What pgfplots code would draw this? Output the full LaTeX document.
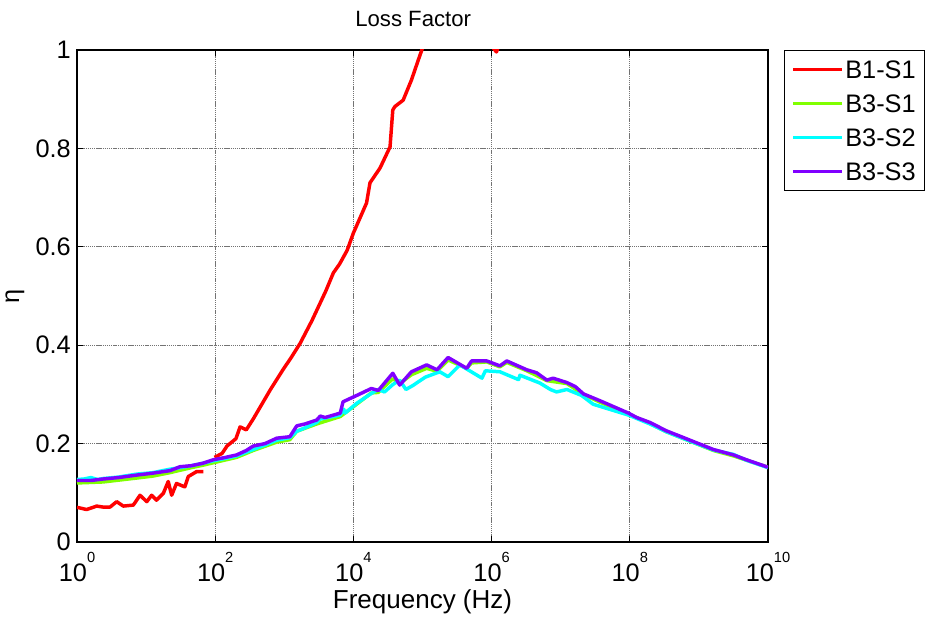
\documentclass[border=0pt]{standalone}
\usepackage{pgfplots}
\pgfplotsset{compat=1.18}
\usepackage{fontspec}
\setmainfont{Liberation Sans}
\newcommand\ex[1]{\raisebox{14pt}{\fontsize{11}{12}\selectfont #1}}
\definecolor{cred}{RGB}{255,0,0}
\definecolor{cgreen}{RGB}{128,255,0}
\definecolor{ccyan}{RGB}{0,255,255}
\definecolor{cpurple}{RGB}{128,0,255}
\newcommand\tfont{\fontsize{19}{22}\selectfont}
\begin{document}
\begin{tikzpicture}
\begin{axis}[
  name=ax,
  scale only axis,
  width=518.25pt, height=369pt,
  xmin=0, xmax=10, ymin=0, ymax=1,
  xtick={0,2,4,6,8,10},
  xticklabels={10\ex{0},10\ex{2},10\ex{4},10\ex{6},10\ex{8},10\ex{10}},
  ytick={0,0.2,0.4,0.6,0.8,1},
  yticklabels={0,0.2,0.4,0.6,0.8,1},
  minor tick num=0,
  tick pos=both,
  tick align=inside,
  major tick length=4.5pt,
  tick style={black, line width=0.7pt},
  axis line style={black, line width=1pt},
  grid=major,
  major grid style={black!55, line width=0.7pt, dash pattern=on 1pt off 0.6pt},
  tick label style={font=\tfont},
  xticklabel style={anchor=base, inner sep=0pt, yshift=-29.25pt},
  yticklabel style={anchor=east, inner sep=0pt, xshift=-4.5pt},
  title={Loss Factor},
  title style={font=\fontsize{16.6}{20}\selectfont, at={(0.5,1)}, anchor=base, yshift=11.25pt, xshift=-7pt},
  xlabel={Frequency (Hz)},
  xlabel style={font=\fontsize{19.5}{22}\selectfont, at={(0.5,0)}, anchor=base, yshift=-49.5pt},
  ylabel={η},
  ylabel style={font=\tfont, at={(0,0.5)}, anchor=center, yshift=46.5pt},
  unbounded coords=jump,
  legend cell align=left,
  legend image code/.code={\draw[#1, line width=2.3pt] (0pt,0pt) -- (36.75pt,0pt);},
  legend style={at={(1,1)}, anchor=north west, xshift=12pt, draw=black, line width=0.8pt,
    font=\tfont, inner xsep=5.5pt, inner ysep=6.5pt, row sep=10pt,
    nodes={inner sep=1pt, text height=13.5pt, text depth=0pt},
    /tikz/every even column/.append style={column sep=5pt}},
  every axis plot/.append style={line width=2.6pt, line join=round},
]
\addplot[cred] table[row sep=\\] {
x y\\
0 0.0705\\ 0.14 0.066\\ 0.285 0.073\\ 0.376 0.071\\ 0.478 0.071\\ 0.575 0.082\\
0.67 0.073\\ 0.815 0.075\\ 0.912 0.095\\ 1.01 0.082\\ 1.08 0.095\\ 1.15 0.085\\
1.25 0.099\\ 1.32 0.123\\ 1.37 0.095\\ 1.44 0.119\\ 1.56 0.112\\ 1.61 0.133\\
1.73 0.143\\ 1.83 0.143\\ 1.9 nan\\ 1.99 0.172\\ 2.1 0.18\\ 2.17 0.195\\ 2.3 0.21\\
2.36 0.234\\ 2.45 0.228\\ 2.55 0.25\\ 2.65 0.274\\ 2.8 0.31\\ 2.98 0.35\\ 3.1 0.375\\
3.23 0.404\\ 3.4 0.45\\ 3.52 0.486\\ 3.6 0.51\\ 3.71 0.547\\ 3.8 0.565\\ 3.91 0.593\\
4.0 0.628\\ 4.1 0.66\\ 4.19 0.689\\ 4.24 0.73\\ 4.385 0.76\\ 4.53 0.803\\ 4.57 0.878\\
4.60 0.885\\ 4.72 0.898\\ 4.84 0.939\\ 4.94 0.98\\ 4.99 1.0\\ 5.3 1.12\\ 5.7 1.06\\
6.07 0.996\\ 6.3 1.08\\ 7 1.3\\
};
\addlegendentry{B1-S1}
\addplot[cgreen] table[row sep=\\] {
x y\\
0 0.12\\ 0.376 0.122\\ 0.864 0.13\\ 1.1 0.134\\ 1.346 0.141\\ 1.65 0.151\\ 1.82 0.156\\
1.97 0.161\\ 2.31 0.172\\ 2.55 0.186\\ 2.89 0.203\\ 3.08 0.208\\ 3.18 0.225\\ 3.47 0.24\\
3.81 0.255\\ 4.0 0.275\\ 4.26 0.303\\ 4.36 0.304\\ 4.57 0.332\\ 4.67 0.322\\ 4.84 0.34\\
5.06 0.353\\ 5.21 0.347\\ 5.37 0.37\\ 5.64 0.353\\ 5.71 0.364\\ 5.93 0.366\\ 6.12 0.356\\
6.22 0.365\\ 6.51 0.348\\ 6.80 0.328\\ 7.09 0.322\\ 7.33 0.3\\ 7.57 0.284\\ 7.98 0.26\\
8.29 0.241\\ 8.53 0.224\\ 8.87 0.205\\ 9.21 0.186\\ 9.50 0.175\\ 10 0.152\\
};
\addlegendentry{B3-S1}
\addplot[ccyan] table[row sep=\\] {
x y\\
0 0.127\\ 0.1 0.128\\ 0.2 0.131\\ 0.3 0.127\\ 0.376 0.129\\ 0.6 0.132\\ 0.864 0.138\\
1.1 0.141\\ 1.346 0.148\\ 1.49 0.151\\ 1.65 0.155\\ 1.82 0.16\\ 1.97 0.165\\ 2.15 0.17\\
2.31 0.175\\ 2.55 0.188\\ 2.72 0.197\\ 2.89 0.207\\ 3.08 0.212\\ 3.18 0.225\\ 3.3 0.232\\
3.47 0.243\\ 3.52 0.25\\ 3.81 0.258\\ 3.86 0.27\\ 3.88 0.262\\ 4.05 0.282\\ 4.26 0.302\\
4.36 0.31\\ 4.45 0.305\\ 4.57 0.32\\ 4.67 0.329\\ 4.76 0.31\\ 4.86 0.318\\ 5.04 0.335\\
5.25 0.346\\ 5.37 0.336\\ 5.54 0.36\\ 5.86 0.333\\ 5.91 0.348\\ 6.12 0.346\\ 6.39 0.33\\
6.41 0.339\\ 6.70 0.323\\ 6.85 0.31\\ 6.94 0.305\\ 7.09 0.31\\ 7.30 0.298\\ 7.47 0.28\\
7.98 0.258\\ 8.29 0.24\\ 8.53 0.224\\ 8.87 0.205\\ 9.21 0.187\\ 9.50 0.178\\ 9.69 0.166\\
10 0.151\\
};
\addlegendentry{B3-S2}
\addplot[cpurple] table[row sep=\\] {
x y\\
0 0.125\\ 0.2 0.125\\ 0.376 0.128\\ 0.6 0.131\\ 0.864 0.136\\ 1.1 0.14\\ 1.346 0.145\\
1.49 0.153\\ 1.65 0.155\\ 1.82 0.16\\ 1.97 0.167\\ 2.15 0.172\\ 2.31 0.177\\ 2.45 0.186\\
2.55 0.195\\ 2.72 0.2\\ 2.89 0.211\\ 3.08 0.214\\ 3.18 0.236\\ 3.3 0.24\\ 3.47 0.248\\
3.52 0.256\\ 3.59 0.253\\ 3.81 0.262\\ 3.85 0.285\\ 4.05 0.298\\ 4.26 0.312\\ 4.36 0.308\\
4.57 0.343\\ 4.67 0.319\\ 4.84 0.346\\ 5.06 0.36\\ 5.21 0.35\\ 5.37 0.375\\ 5.64 0.353\\
5.71 0.368\\ 5.93 0.368\\ 6.12 0.358\\ 6.22 0.368\\ 6.51 0.35\\ 6.65 0.344\\ 6.80 0.329\\
6.89 0.333\\ 7.09 0.324\\ 7.21 0.316\\ 7.33 0.301\\ 7.57 0.287\\ 7.98 0.262\\ 8.10 0.253\\
8.29 0.243\\ 8.53 0.226\\ 8.87 0.207\\ 9.21 0.188\\ 9.50 0.177\\ 9.69 0.167\\ 10 0.152\\
};
\addlegendentry{B3-S3}
\end{axis}
\pgfresetboundingbox
\path ([xshift=-57.75pt,yshift=-56.25pt]ax.south west) rectangle ([xshift=639.75pt,yshift=406.5pt]ax.south west);
\end{tikzpicture}
\end{document}
